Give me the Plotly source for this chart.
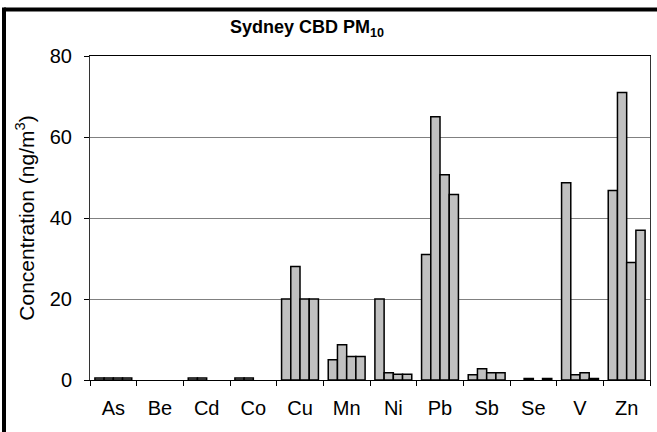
import plotly.graph_objects as go

categories = ["As", "Be", "Cd", "Co", "Cu", "Mn", "Ni", "Pb", "Sb", "Se", "V", "Zn"]
series_names = ["Series 1", "Series 2", "Series 3", "Series 4"]
s1 = [0.5, None, 0.5, 0.5, 20, 5.0, 20, 31, 1.3, None, 48.7, 46.8]
s2 = [0.5, None, 0.5, 0.5, 28, 8.7, 1.8, 65, 2.8, 0.4, 1.3, 71]
s3 = [0.5, None, None, None, 20, 5.8, 1.4, 50.7, 1.8, None, 1.8, 29]
s4 = [0.5, None, None, None, 20, 5.8, 1.4, 45.8, 1.8, 0.4, 0.4, 37]
y_ticks = [0, 20, 40, 60, 80]

FONT = "Liberation Sans, Arial, sans-serif"

fig = go.Figure()
for name, vals in zip(series_names, [s1, s2, s3, s4]):
    fig.add_trace(go.Bar(
        x=categories, y=vals, name=name,
        marker=dict(color="#C0C0C0", line=dict(color="black", width=1.5)),
    ))

W, H = 657, 432
L, R, T, B = 90, 7, 56, 52
pw, ph = W - L - R, H - T - B

def px_x(x):
    return (x - L) / pw

def px_y(y):
    return (H - B - y) / ph

fig.update_layout(
    width=W, height=H,
    margin=dict(l=L, r=R, t=T, b=B),
    paper_bgcolor="white", plot_bgcolor="white",
    showlegend=False,
    barmode="group", bargap=0.21, bargroupgap=0,
    font=dict(family=FONT, color="black", size=20),
    title=dict(text="<b>Sydney CBD PM<sub>10</sub></b>", x=307 / W, xanchor="center",
               y=1 - 27 / H, yanchor="middle", yref="container",
               font=dict(family=FONT, size=18, color="black")),
    xaxis=dict(showline=True, linecolor="black", linewidth=1, mirror=True,
               ticks="outside", ticklen=5, tickcolor="black", tickson="boundaries",
               tickfont=dict(size=20), ticklabelstandoff=10, showgrid=False),
    yaxis=dict(range=[0, 80], tickvals=y_ticks, showline=True, linecolor="#333333",
               linewidth=1, mirror=True, ticks="outside", ticklen=5, tickcolor="black",
               showgrid=True, gridcolor="#808080", gridwidth=1, zeroline=False,
               tickfont=dict(size=20), ticklabelstandoff=8,
               title=dict(text="Concentration (ng/m<sup>3</sup>)", font=dict(size=21), standoff=9)),
    shapes=[
        dict(type="line", xref="paper", yref="paper", x0=px_x(4), x1=px_x(W + 5),
             y0=px_y(9.5), y1=px_y(9.5), line=dict(color="black", width=4)),
        dict(type="line", xref="paper", yref="paper", x0=px_x(4), x1=px_x(4),
             y0=px_y(7.5), y1=px_y(H + 5), line=dict(color="black", width=4)),
    ],
)

fig.write_html("out.html", config={"displayModeBar": False},
               post_script="document.body.style.margin='0';")
